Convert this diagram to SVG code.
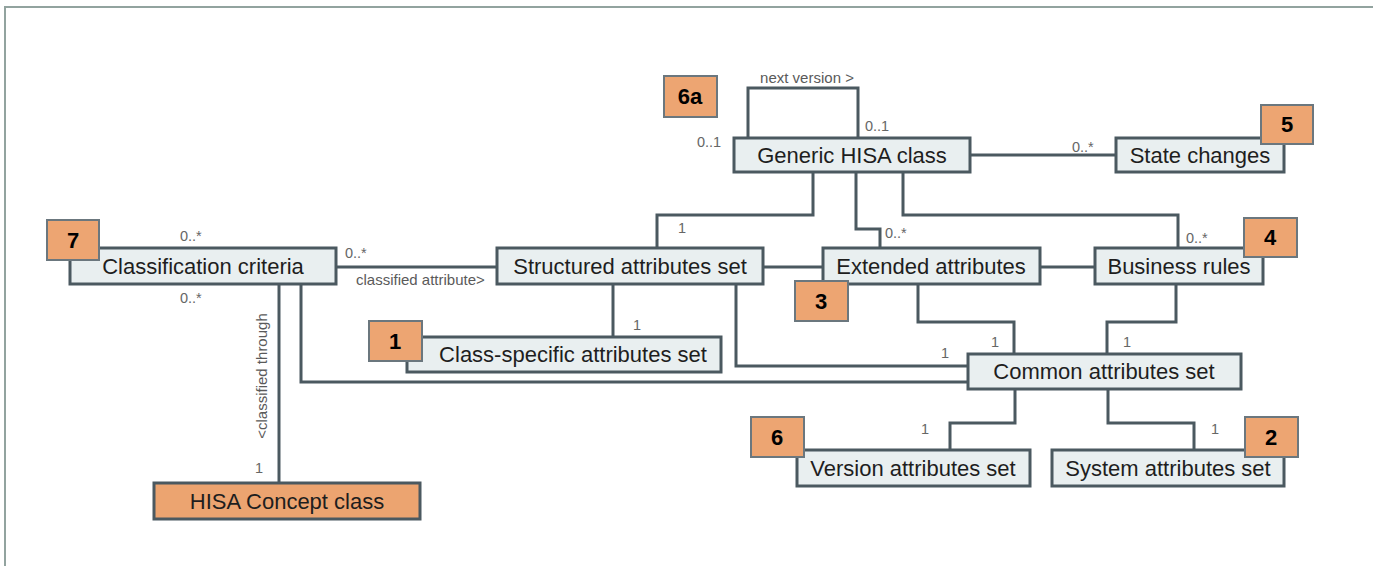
<svg xmlns="http://www.w3.org/2000/svg" width="1373" height="566" viewBox="0 0 1373 566">
<style>
.node rect{fill:#e9eff0;stroke:#4b5960;stroke-width:3}
.node text{font-family:"Liberation Sans",Arial,sans-serif;font-size:22px;fill:#1e1e1e;text-anchor:middle}
.concept rect{fill:#eca470;stroke:#4b5960;stroke-width:3}
.badge rect{fill:#eda572;stroke:#6b777e;stroke-width:2}
.badge text{font-family:"Liberation Sans",Arial,sans-serif;font-size:22px;font-weight:bold;fill:#000;text-anchor:middle}
#connectors path{fill:none;stroke:#4b5960;stroke-width:3}
.lbl{font-family:"Liberation Sans",Arial,sans-serif;font-size:15px;fill:#5a5a5a}
.num{font-family:"Liberation Sans",Arial,sans-serif;font-size:14.5px;fill:#666}
</style>
<rect x="0" y="0" width="1373" height="566" fill="#fff"/>
<path d="M5,566 V7 H1373" fill="none" stroke="#92a39f" stroke-width="2"/>
<g id="connectors">
<path d="M748,138 V88 H858 V138"/>
<path d="M970,155 H1116"/>
<path d="M813,172 V215 H657 V248"/>
<path d="M856,172 V229 H880 V248"/>
<path d="M903,172 V215 H1178 V248"/>
<path d="M336,267 H497"/>
<path d="M763,267 H823"/>
<path d="M1040,267 H1095"/>
<path d="M279,284 V483"/>
<path d="M301,284 V382 H968"/>
<path d="M613,284 V337"/>
<path d="M736,284 V366 H968"/>
<path d="M918,284 V322 H1014 V354"/>
<path d="M1176,284 V322 H1107 V354"/>
<path d="M1015,389 V423 H950 V450"/>
<path d="M1108,389 V423 H1194 V450"/>
</g>
<g id="labels">
<text class="lbl" x="807" y="83" text-anchor="middle">next version &gt;</text>
<text class="num" x="697" y="147">0..1</text>
<text class="num" x="865" y="131">0..1</text>
<text class="num" x="1072" y="152">0..*</text>
<text class="num" x="678" y="233">1</text>
<text class="num" x="885" y="238">0..*</text>
<text class="num" x="1186" y="243">0..*</text>
<text class="num" x="180" y="241">0..*</text>
<text class="num" x="345" y="258">0..*</text>
<text class="lbl" x="356" y="285" font-size="14.5">classified attribute&gt;</text>
<text class="num" x="180" y="303">0..*</text>
<text class="num" x="633" y="330">1</text>
<text class="lbl" transform="translate(267,376) rotate(-90)" text-anchor="middle">&lt;classified through</text>
<text class="num" x="255" y="473">1</text>
<text class="num" x="991" y="347">1</text>
<text class="num" x="941" y="358">1</text>
<text class="num" x="1123" y="347">1</text>
<text class="num" x="921" y="434">1</text>
<text class="num" x="1211" y="434">1</text>
</g>
<g id="generic" class="node"><rect x="734" y="138" width="236" height="34"/><text x="852" y="163">Generic HISA class</text></g>
<g id="state" class="node"><rect x="1116" y="138" width="168" height="34"/><text x="1200" y="163">State changes</text></g>
<g id="classification" class="node"><rect x="70" y="248" width="266" height="36"/><text x="203" y="274">Classification criteria</text></g>
<g id="structured" class="node"><rect x="497" y="248" width="266" height="36"/><text x="630" y="274">Structured attributes set</text></g>
<g id="extended" class="node"><rect x="823" y="248" width="217" height="36"/><text x="931" y="274">Extended attributes</text></g>
<g id="business" class="node"><rect x="1095" y="248" width="168" height="36"/><text x="1179" y="274">Business rules</text></g>
<g id="classspecific" class="node"><rect x="407" y="337" width="314" height="35"/><text x="573" y="362">Class-specific attributes set</text></g>
<g id="common" class="node"><rect x="968" y="354" width="273" height="35"/><text x="1104" y="379">Common attributes set</text></g>
<g id="version" class="node"><rect x="797" y="450" width="233" height="36"/><text x="913" y="476">Version attributes set</text></g>
<g id="system" class="node"><rect x="1052" y="450" width="232" height="36"/><text x="1168" y="476">System attributes set</text></g>
<g id="concept" class="node concept"><rect x="154" y="483" width="266" height="36"/><text x="287" y="509">HISA Concept class</text></g>
<g id="badge6a" class="badge"><rect x="664" y="76" width="53" height="41"/><text x="690" y="104">6a</text></g>
<g id="badge5" class="badge"><rect x="1261" y="105" width="52" height="39"/><text x="1287" y="132">5</text></g>
<g id="badge7" class="badge"><rect x="47" y="220" width="52" height="40"/><text x="73" y="248">7</text></g>
<g id="badge4" class="badge"><rect x="1244" y="218" width="53" height="39"/><text x="1270" y="245">4</text></g>
<g id="badge3" class="badge"><rect x="795" y="281" width="53" height="40"/><text x="821" y="309">3</text></g>
<g id="badge1" class="badge"><rect x="369" y="321" width="53" height="40"/><text x="395" y="349">1</text></g>
<g id="badge6" class="badge"><rect x="751" y="417" width="53" height="40"/><text x="777" y="445">6</text></g>
<g id="badge2" class="badge"><rect x="1245" y="417" width="53" height="40"/><text x="1271" y="445">2</text></g>
</svg>
